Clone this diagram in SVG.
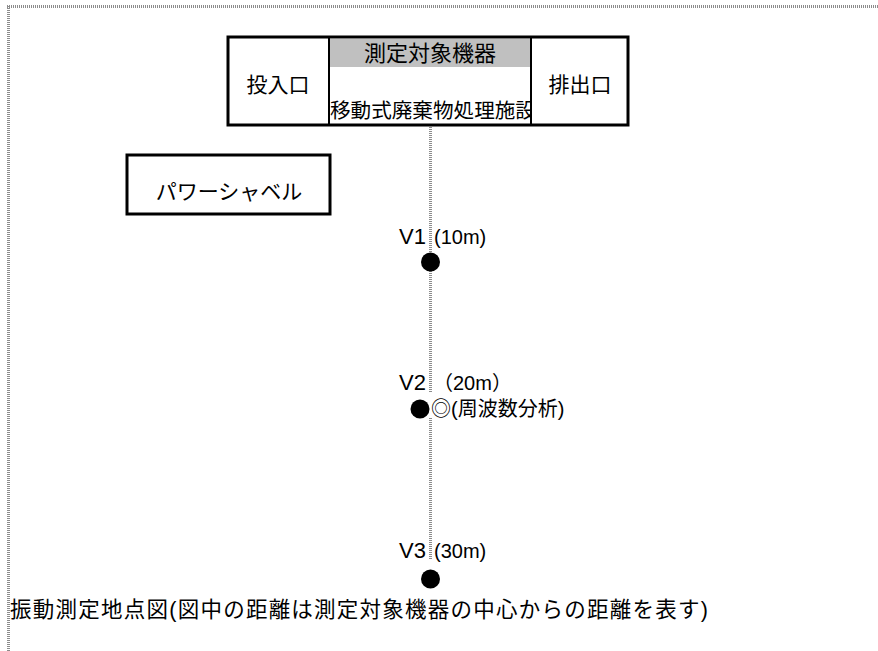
<svg xmlns="http://www.w3.org/2000/svg" width="878" height="651" viewBox="0 0 878 651">
<defs>
<style>
.t{font-family:"Liberation Sans","Noto Sans CJK JP",sans-serif;font-size:20px;fill:#000}
.j{font-size:21px}
.box{fill:#fff;stroke:#000;stroke-width:3}
.div{stroke:#000;stroke-width:2}
.dot{stroke:#8c8c8c;stroke-width:3;stroke-dasharray:1 1;fill:none}
</style>
<clipPath id="cellclip"><rect x="330" y="67" width="200" height="56"/></clipPath>
</defs>
<rect x="0" y="0" width="878" height="651" fill="#fff"/>
<g id="frame">
<path class="dot" d="M7 6.5H878M8.5 6V651"/>
</g>
<g id="connectors">
<path class="dot" d="M430.5 125V392M430.5 418V560"/>
</g>
<g id="equipment">
<rect class="box" x="228" y="37" width="400" height="88"/>
<rect x="330" y="39" width="200" height="28" fill="#c0c0c0"/>
<line class="div" x1="329" y1="37" x2="329" y2="125"/>
<line class="div" x1="531" y1="37" x2="531" y2="125"/>
<text class="t j" x="278" y="92" text-anchor="middle">投入口</text>
<text class="t j" x="580" y="92" text-anchor="middle">排出口</text>
<text class="t" x="430" y="61" text-anchor="middle" style="font-size:22px">測定対象機器</text>
<text class="t" x="330" y="118" clip-path="url(#cellclip)" style="font-size:20.6px">移動式廃棄物処理施設</text>
</g>
<g id="shovel">
<rect class="box" x="127" y="155" width="203" height="59"/>
<text class="t j" x="229" y="199" text-anchor="middle">パワーシャベル</text>
</g>
<g id="v1">
<text class="t" x="426" y="244" text-anchor="end" style="font-size:22px">V1</text>
<text class="t" x="434" y="244">(10m)</text>
<circle cx="430.5" cy="262" r="9.5" fill="#000"/>
</g>
<g id="v2">
<text class="t" x="426" y="390" text-anchor="end" style="font-size:22px">V2</text>
<text class="t" x="433" y="390">（20m）</text>
<circle cx="420" cy="409" r="9.5" fill="#000"/>
<text class="t" x="431" y="416">◎(周波数分析)</text>
</g>
<g id="v3">
<text class="t" x="426" y="558" text-anchor="end" style="font-size:22px">V3</text>
<text class="t" x="434" y="558">(30m)</text>
<circle cx="430.5" cy="579" r="9.5" fill="#000"/>
</g>
<g id="caption">
<text class="t" x="10" y="617" textLength="698" lengthAdjust="spacing" style="font-size:21.5px">振動測定地点図(図中の距離は測定対象機器の中心からの距離を表す)</text>
</g>
</svg>
